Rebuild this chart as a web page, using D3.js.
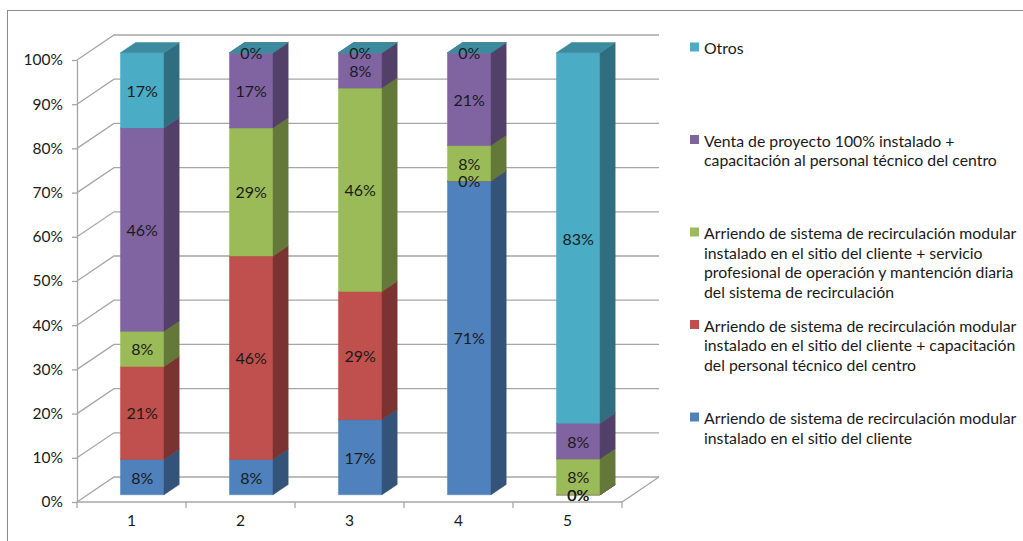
<!DOCTYPE html>
<html>
<head>
<meta charset="utf-8">
<script src="https://cdn.jsdelivr.net/npm/d3@7"></script>
<style>
  html, body { margin: 0; padding: 0; background: #ffffff; }
  svg { display: block; font-family: Lato, "Open Sans", sans-serif; }
</style>
</head>
<body>
<svg id="chart" width="1023" height="541"></svg>
<script>
// Categories on the horizontal axis
const categories = ["1", "2", "3", "4", "5"];

// Series values in percent, stacked bottom to top
const arriendoModular      = [8, 8, 17, 71, 0];
const arriendoCapacitacion = [21, 46, 29, 0, 0];
const arriendoServicio     = [8, 29, 46, 8, 8];
const ventaProyecto        = [46, 17, 8, 21, 8];
const otros                = [17, 0, 0, 0, 83];

// Series names (line breaks as shown in the legend)
const seriesNames = [
  "Arriendo de sistema de recirculación modular\ninstalado en el sitio del cliente",
  "Arriendo de sistema de recirculación modular\ninstalado en el sitio del cliente + capacitación\ndel personal técnico del centro",
  "Arriendo de sistema de recirculación modular\ninstalado en el sitio del cliente + servicio\nprofesional de operación y mantención diaria\ndel sistema de recirculación",
  "Venta de proyecto 100% instalado +\ncapacitación al personal técnico del centro",
  "Otros"
];
const seriesColors = ["#4F81BD", "#C0504D", "#9BBB59", "#8064A2", "#4BACC6"];

// Value axis ticks
const yTicks = [0, 0.1, 0.2, 0.3, 0.4, 0.5, 0.6, 0.7, 0.8, 0.9, 1];

const seriesValues = [arriendoModular, arriendoCapacitacion, arriendoServicio, ventaProyecto, otros];
const keys = seriesValues.map((_, i) => "s" + i);
const rows = categories.map((c, j) => {
  const r = { cat: c };
  seriesValues.forEach((vals, i) => { r[keys[i]] = vals[j]; });
  return r;
});

const svg = d3.select("#chart");

// Outer chart frame
svg.append("rect")
  .attr("x", 7.5).attr("y", 10.5)
  .attr("width", 1100).attr("height", 600)
  .attr("fill", "none").attr("stroke", "#8c8c8c").attr("stroke-width", 1);

// Front plane of the 3D plot area and the depth vector toward the back wall
const plot = { left: 77, right: 622, top: 60, bottom: 502 };
const depth = [37, -25];
const barStart = 0.29;   // fraction of depth where a bar's front face sits
const barDepth = 0.41;   // fraction of depth occupied by a bar

const x = d3.scaleBand().domain(categories)
  .range([plot.left, plot.right])
  .paddingInner(0.6).paddingOuter(0.3);
const y = d3.scaleLinear().domain([0, 1]).range([plot.bottom, plot.top]);

const gridColor = "#a6a6a6";
const textColor = "#1a1a1a";

// Side wall diagonals and back wall gridlines
const grid = svg.append("g").attr("fill", "none").attr("stroke", gridColor).attr("stroke-width", 1.3);
yTicks.forEach(t => {
  const y0 = y(t);
  grid.append("path").attr("d", d3.line()([
    [plot.left, y0],
    [plot.left + depth[0], y0 + depth[1]],
    [plot.right + depth[0], y0 + depth[1]]
  ]));
});
// Floor: front edge and right edge
grid.append("path").attr("d", d3.line()([
  [plot.left, plot.bottom], [plot.right, plot.bottom],
  [plot.right + depth[0], plot.bottom + depth[1]]
]));

// Value axis on the front plane
const yAxis = d3.axisLeft(y).tickValues(yTicks)
  .tickFormat(d3.format(".0%")).tickSizeInner(5).tickSizeOuter(0).tickPadding(9);
const gy = svg.append("g").attr("transform", `translate(${plot.left},0)`).call(yAxis);
gy.select(".domain").attr("stroke", gridColor).attr("stroke-width", 1.3);
gy.selectAll(".tick line").attr("stroke", gridColor).attr("stroke-width", 1.3);
gy.selectAll(".tick text").attr("font-size", 15.5).attr("fill", textColor)
  .attr("font-family", "Lato, sans-serif");

// Category axis: boundary ticks on the floor edge, labels at band centres
const boundaries = d3.range(categories.length + 1).map(i => plot.left + i * x.step());
svg.append("g").selectAll("line").data(boundaries).join("line")
  .attr("x1", d => d).attr("x2", d => d)
  .attr("y1", plot.bottom).attr("y2", plot.bottom + 6)
  .attr("stroke", gridColor).attr("stroke-width", 1.3);
const xAxis = d3.axisBottom(x).tickSize(0).tickPadding(13);
const gx = svg.append("g").attr("transform", `translate(0,${plot.bottom})`).call(xAxis);
gx.select(".domain").remove();
gx.selectAll(".tick text").attr("font-size", 15.5).attr("fill", textColor)
  .attr("font-family", "Lato, sans-serif");

// 100% stacked layout
const stacked = d3.stack().keys(keys).offset(d3.stackOffsetExpand)(rows);

const shade = (c, k) => { const r = d3.rgb(c); return d3.rgb(r.r * k, r.g * k, r.b * k).formatHex(); };

const ox = depth[0] * barStart, oy = depth[1] * barStart;
const dx = depth[0] * barDepth, dy = depth[1] * barDepth;
const bw = x.bandwidth();

// Bars: per category, segments bottom to top (front, side, top faces)
const bars = svg.append("g");
categories.forEach((cat, j) => {
  const x0 = x(cat) + ox;
  const x1 = x0 + bw;
  stacked.forEach((layer, i) => {
    const d = layer[j];
    const yb = y(d[0]) + oy;
    const yt = y(d[1]) + oy;
    const col = seriesColors[i];
    const g = bars.append("g");
    g.append("path").attr("fill", col).attr("stroke", col).attr("stroke-width", 0.5)
      .attr("d", d3.line()([[x0, yb], [x1, yb], [x1, yt], [x0, yt]]) + "Z");
    g.append("path").attr("fill", shade(col, 0.64)).attr("stroke", shade(col, 0.64)).attr("stroke-width", 0.5)
      .attr("d", d3.line()([[x1, yb], [x1 + dx, yb + dy], [x1 + dx, yt + dy], [x1, yt]]) + "Z");
    g.append("path").attr("fill", shade(col, 0.8)).attr("stroke", shade(col, 0.8)).attr("stroke-width", 0.5)
      .attr("d", d3.line()([[x0, yt], [x1, yt], [x1 + dx, yt + dy], [x0 + dx, yt + dy]]) + "Z");
  });
});

// Data labels centred on each segment's front face
const labels = svg.append("g").attr("font-size", 16).attr("fill", textColor)
  .attr("text-anchor", "middle").attr("dominant-baseline", "central");
stacked.forEach((layer, i) => {
  layer.forEach((d, j) => {
    const cx = x(categories[j]) + ox + bw / 2;
    const cy = y((d[0] + d[1]) / 2) + oy;
    labels.append("text").attr("x", cx).attr("y", cy)
      .text(seriesValues[i][j] + "%");
  });
});

// Legend, listed top series first
const legendOrder = d3.range(seriesNames.length).reverse();
const ly = d3.scalePoint().domain(legendOrder).range([47, 417]);
const legend = svg.append("g").attr("font-size", 15.8).attr("fill", textColor);
legendOrder.forEach(i => {
  const g = legend.append("g").attr("transform", `translate(690,${ly(i)})`);
  g.append("rect").attr("x", 0).attr("y", -4.5).attr("width", 9).attr("height", 9)
    .attr("fill", seriesColors[i]);
  const t = g.append("text").attr("x", 14).attr("y", 0).attr("dominant-baseline", "central");
  seriesNames[i].split("\n").forEach((line, k) => {
    t.append("tspan").attr("x", 14).attr("dy", k === 0 ? 0 : 19.5).text(line);
  });
});
</script>
</body>
</html>
